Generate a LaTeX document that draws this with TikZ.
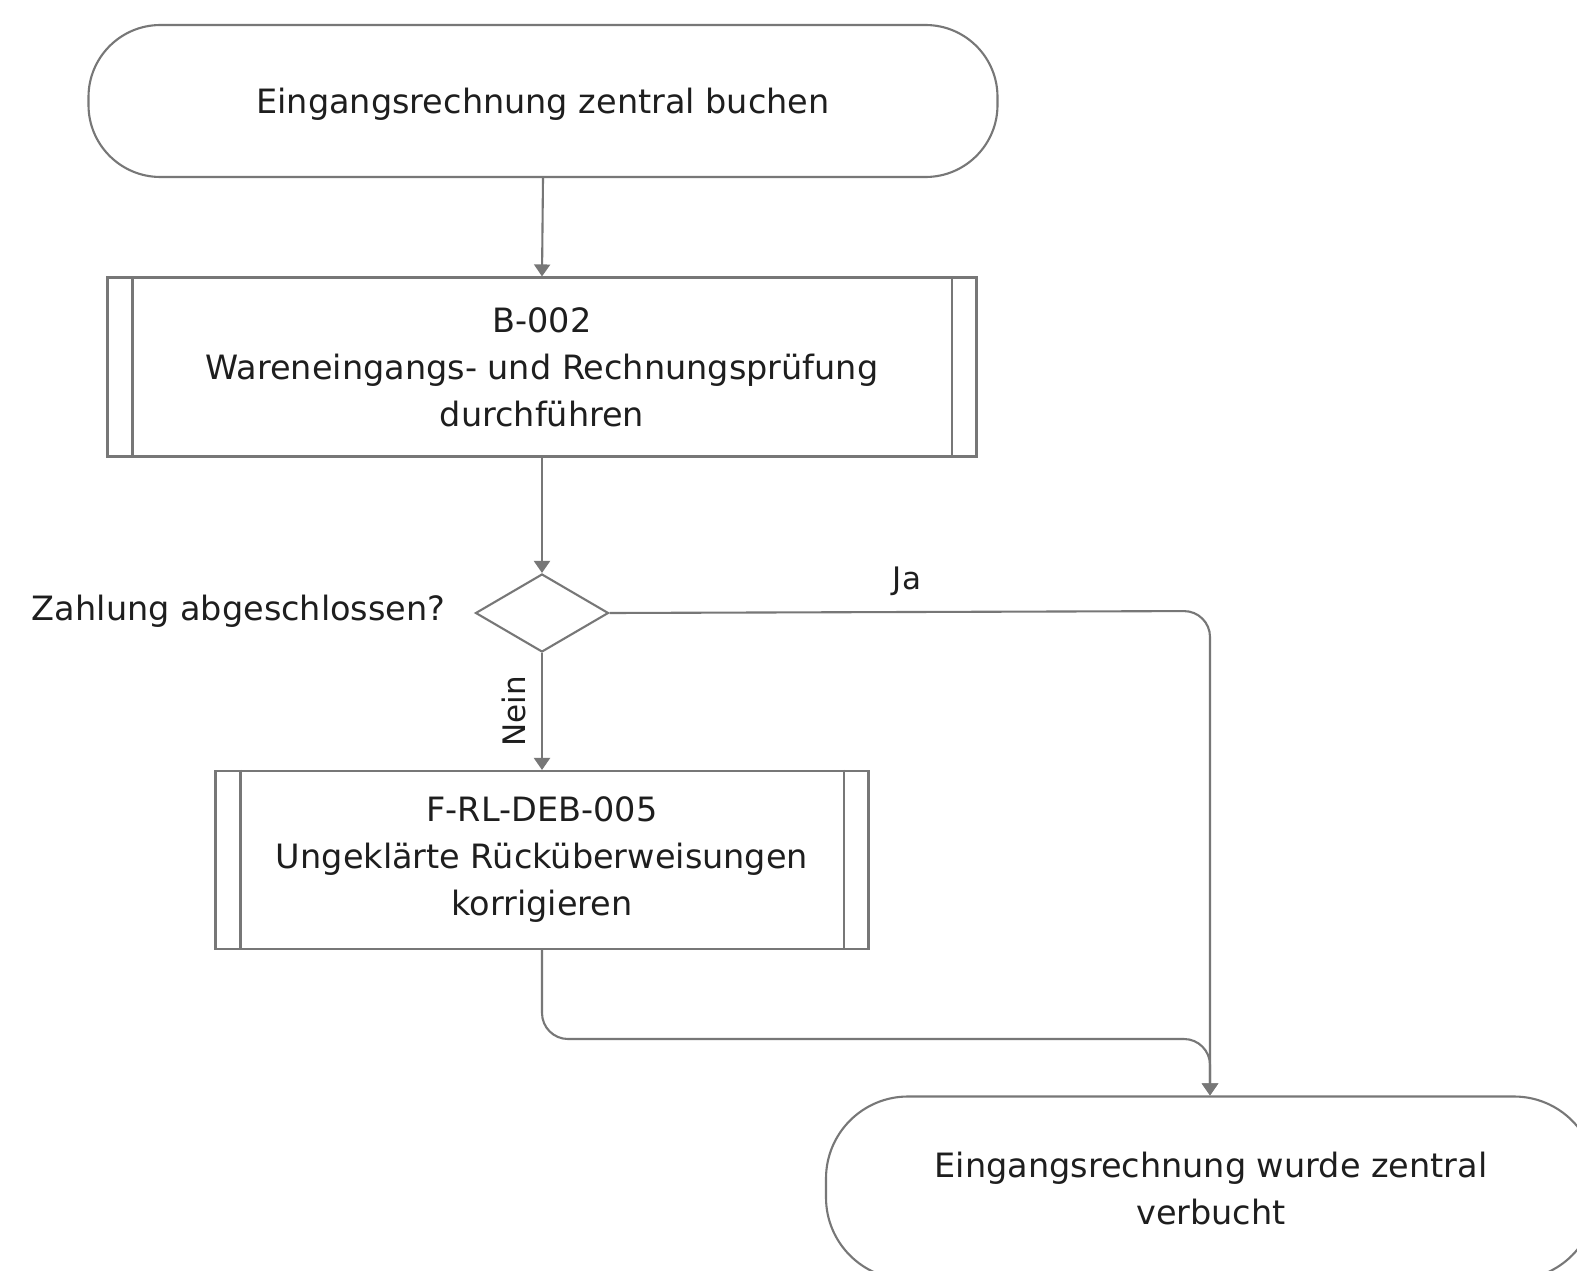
\documentclass[tikz,border=0pt]{standalone}
\usepackage{fontspec}
\setmainfont{DejaVu Sans}
\usetikzlibrary{shapes.geometric,arrows.meta}
\definecolor{linegray}{HTML}{777777}
\definecolor{txt}{HTML}{1E1E1E}
\begin{document}
\begin{tikzpicture}[x=1pt,y=-1pt,
  every node/.style={text=txt,font=\fontsize{33.5}{47}\selectfont},
  terminal/.style={draw=linegray,line width=2.1pt,rounded corners=72pt,align=center,inner sep=0pt},
  procbox/.style={draw=linegray,line width=2.1pt,align=center,inner sep=0pt},
  decision/.style={draw=linegray,line width=2.1pt,diamond,aspect=1.7,inner sep=0pt,minimum width=133pt,minimum height=78pt},
  conn/.style={draw=linegray,line width=2.1pt,-{Triangle[width=16pt,length=12pt]}},
  lbl/.style={font=\fontsize{31}{36}\selectfont}]
\useasboundingbox (0,0) rectangle (1577,1271);
\fill[white] (0,0) rectangle (1577,1271);

\node[terminal,minimum width=909pt,minimum height=152pt,text depth=0pt] (start) at (543,101) {Eingangsrechnung zentral buchen};

\node[procbox,minimum width=869pt,minimum height=179pt] (b002) at (542,367) {B-002\\Wareneingangs- und Rechnungsprüfung\\durchführen};
\draw[linegray,line width=2.1pt] ([xshift=26pt]b002.north west) -- ([xshift=26pt]b002.south west);
\draw[linegray,line width=2.1pt] ([xshift=-26pt]b002.north east) -- ([xshift=-26pt]b002.south east);

\node[decision] (dec) at (542,613) {};
\node[anchor=east] (declbl) at (449,611) {Zahlung abgeschlossen?};

\node[procbox,minimum width=653pt,minimum height=178pt] (frl) at (542,860) {F-RL-DEB-005\\Ungeklärte Rücküberweisungen\\korrigieren};
\draw[linegray,line width=2.1pt] ([xshift=26pt]frl.north west) -- ([xshift=26pt]frl.south west);
\draw[linegray,line width=2.1pt] ([xshift=-26pt]frl.north east) -- ([xshift=-26pt]frl.south east);

\node[terminal,rounded corners=82pt,minimum width=770pt,minimum height=183pt] (end) at (1211,1188) {Eingangsrechnung wurde zentral\\verbucht};

\coordinate (jacorner) at (1210,611);
\coordinate (mergea) at (542,1039);
\coordinate (mergeb) at (1210,1039);

\draw[conn] (start.south) -- (b002.north);
\draw[conn] (b002.south) -- (dec.north);
\draw[conn] (dec.south) -- node[lbl,rotate=90,anchor=south,yshift=12pt] (nein) {Nein} (frl.north);
\draw[conn,rounded corners=26pt] (dec.east) -- (jacorner) -- (end.north -| jacorner);
\node[lbl] (ja) at (907,581) {Ja};
\draw[conn,rounded corners=26pt] (frl.south) -- (mergea) -- (mergeb) -- (end.north -| mergeb);
\end{tikzpicture}
\end{document}
